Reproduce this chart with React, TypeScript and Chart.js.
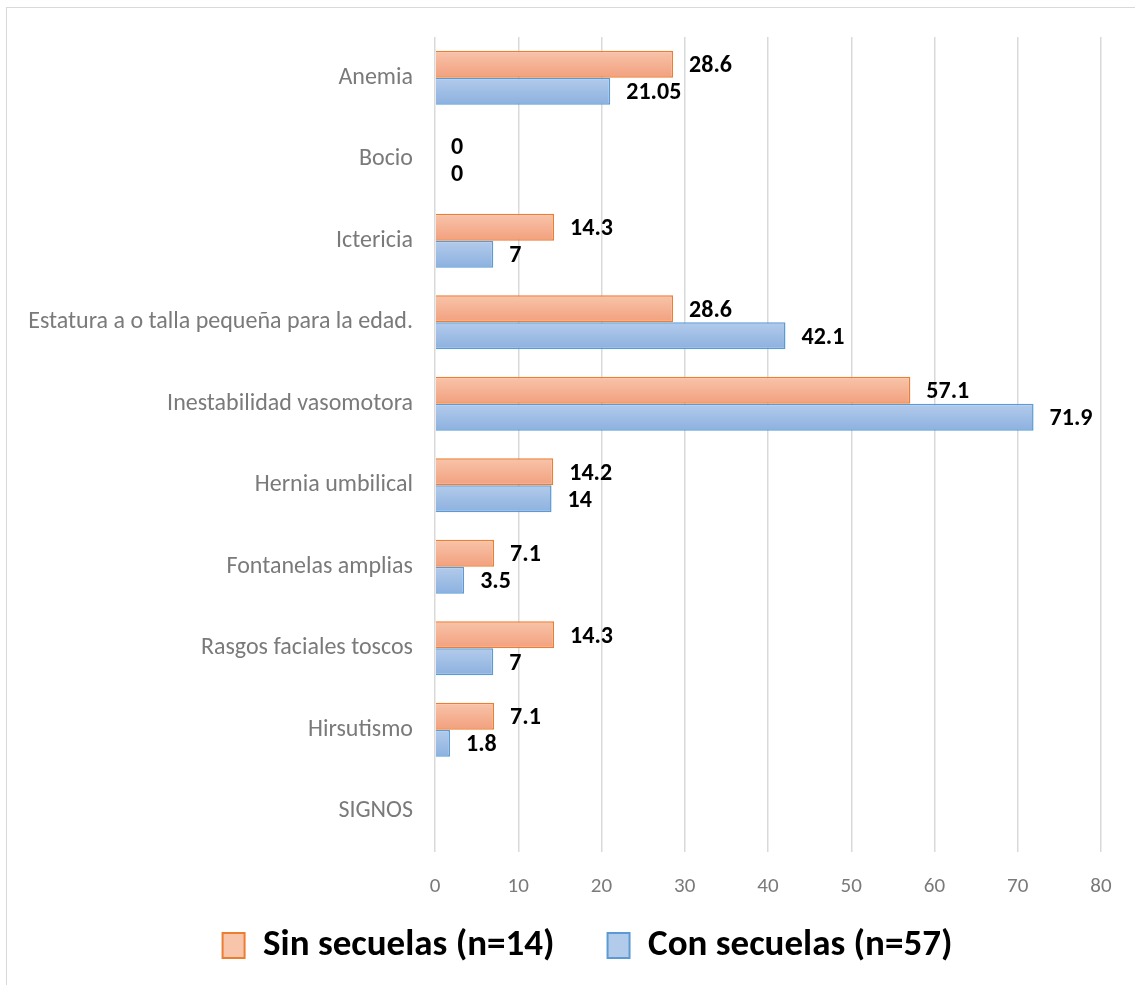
import React, { useEffect, useRef } from "react";
import { Chart, registerables } from "chart.js";

Chart.register(...registerables);

const categories = [
  "Anemia",
  "Bocio",
  "Ictericia",
  "Estatura a o talla pequeña para la edad.",
  "Inestabilidad vasomotora",
  "Hernia umbilical",
  "Fontanelas amplias",
  "Rasgos faciales toscos",
  "Hirsutismo",
  "SIGNOS",
];
const sinSecuelas = [28.6, 0, 14.3, 28.6, 57.1, 14.2, 7.1, 14.3, 7.1, null];
const conSecuelas = [21.05, 0, 7, 42.1, 71.9, 14, 3.5, 7, 1.8, null];
const seriesNames = ["Sin secuelas (n=14)", "Con secuelas (n=57)"];
const xTicks = [0, 10, 20, 30, 40, 50, 60, 70, 80];

const CAT_PCT = 0.66;
const FONT = 'Carlito, Calibri, "Open Sans", sans-serif';

const gradStops = [
  ["#f8c4aa", "#f2a07e"],
  ["#b3cbeb", "#8cb1df"],
];

function makeGradient(ctx: any) {
  const chart = ctx.chart;
  const ds = ctx.datasetIndex;
  const ys = chart.scales && chart.scales.y;
  if (!ys || !ys.height) return gradStops[ds][1];
  const center = ys.getPixelForValue(ctx.dataIndex);
  const slot = ys.height / categories.length;
  const thick = (slot * CAT_PCT) / 2;
  const top = ds === 0 ? center - thick : center;
  const g = chart.ctx.createLinearGradient(0, top, 0, top + thick);
  g.addColorStop(0, gradStops[ds][0]);
  g.addColorStop(1, gradStops[ds][1]);
  return g;
}

const valueLabels = {
  id: "valueLabels",
  afterDatasetsDraw(chart: any) {
    const c = chart.ctx;
    c.save();
    c.font = `bold 24px ${FONT}`;
    c.fillStyle = "#000000";
    c.textAlign = "left";
    c.textBaseline = "middle";
    chart.data.datasets.forEach((d: any, di: number) => {
      const meta = chart.getDatasetMeta(di);
      meta.data.forEach((el: any, i: number) => {
        const v = d.data[i];
        if (v === null || v === undefined) return;
        c.fillText(String(v), el.x + 16, el.y + 2);
      });
    });
    c.restore();
  },
};

// place the legend row where the reference has it
const legendPlacer = {
  id: "legendPlacer",
  beforeDraw(chart: any) {
    const lg = chart.legend;
    if (!lg) return;
    lg.left = 40;
    lg.right = 1135;
    lg.top = 874;
    lg.bottom = 985;
  },
};

export default function App() {
  const ref = useRef<HTMLCanvasElement | null>(null);
  useEffect(() => {
    if (!ref.current) return;
    const chart = new Chart(ref.current, {
      type: "bar",
      data: {
        labels: categories,
        datasets: [
          {
            label: seriesNames[0],
            data: sinSecuelas,
            backgroundColor: makeGradient,
            borderColor: "#ed7d31",
            borderWidth: 1.5,
            categoryPercentage: CAT_PCT,
            barPercentage: 1,
          },
          {
            label: seriesNames[1],
            data: conSecuelas,
            backgroundColor: makeGradient,
            borderColor: "#5b9bd5",
            borderWidth: 1.5,
            categoryPercentage: CAT_PCT,
            barPercentage: 1,
          },
        ],
      },
      options: {
        indexAxis: "y",
        responsive: false,
        animation: false,
        layout: { padding: { top: 37, right: 0, bottom: 33, left: 0 } },
        scales: {
          x: {
            min: 0,
            max: 80,
            afterBuildTicks: (s: any) => {
              s.ticks = xTicks.map((v) => ({ value: v }));
            },
            grid: { color: "#d9d9d9", lineWidth: 1.5, drawTicks: false },
            border: { display: false },
            ticks: {
              color: "#7a7a7a",
              font: { family: FONT, size: 21 },
              padding: 22,
            },
            afterFit: (s: any) => {
              s.height = 60;
              s.paddingRight = 34;
            },
          },
          y: {
            grid: { display: false, drawTicks: false },
            border: { display: false },
            ticks: {
              color: "#7a7a7a",
              font: { family: FONT, size: 24 },
              padding: 22,
              autoSkip: false,
            },
            afterFit: (s: any) => {
              s.width = 435;
            },
          },
        },
        plugins: {
          tooltip: { enabled: false },
          legend: {
            position: "bottom",
            maxHeight: 40,
            labels: {
              color: "#000000",
              font: { family: FONT, size: 37, weight: "bold" },
              boxWidth: 22,
              boxHeight: 25,
              padding: 53,
              generateLabels: (ch: any) =>
                ch.data.datasets.map((d: any, i: number) => ({
                  text: d.label,
                  fillStyle: gradStops[i][0],
                  strokeStyle: d.borderColor,
                  lineWidth: 2,
                  datasetIndex: i,
                  hidden: false,
                })),
            },
          },
        },
      },
      plugins: [valueLabels, legendPlacer],
    });
    return () => chart.destroy();
  }, []);

  return (
    <div style={{ position: "absolute", left: 0, top: 0, width: 1135, height: 985, overflow: "hidden", background: "#fff" }}>
      <div
        style={{
          position: "absolute",
          left: 6,
          top: 7,
          width: 1200,
          height: 1100,
          border: "1px solid #d9d9d9",
          boxSizing: "border-box",
        }}
      />
      <canvas ref={ref} width={1135} height={985} style={{ position: "absolute", left: 0, top: 0 }} />
    </div>
  );
}
